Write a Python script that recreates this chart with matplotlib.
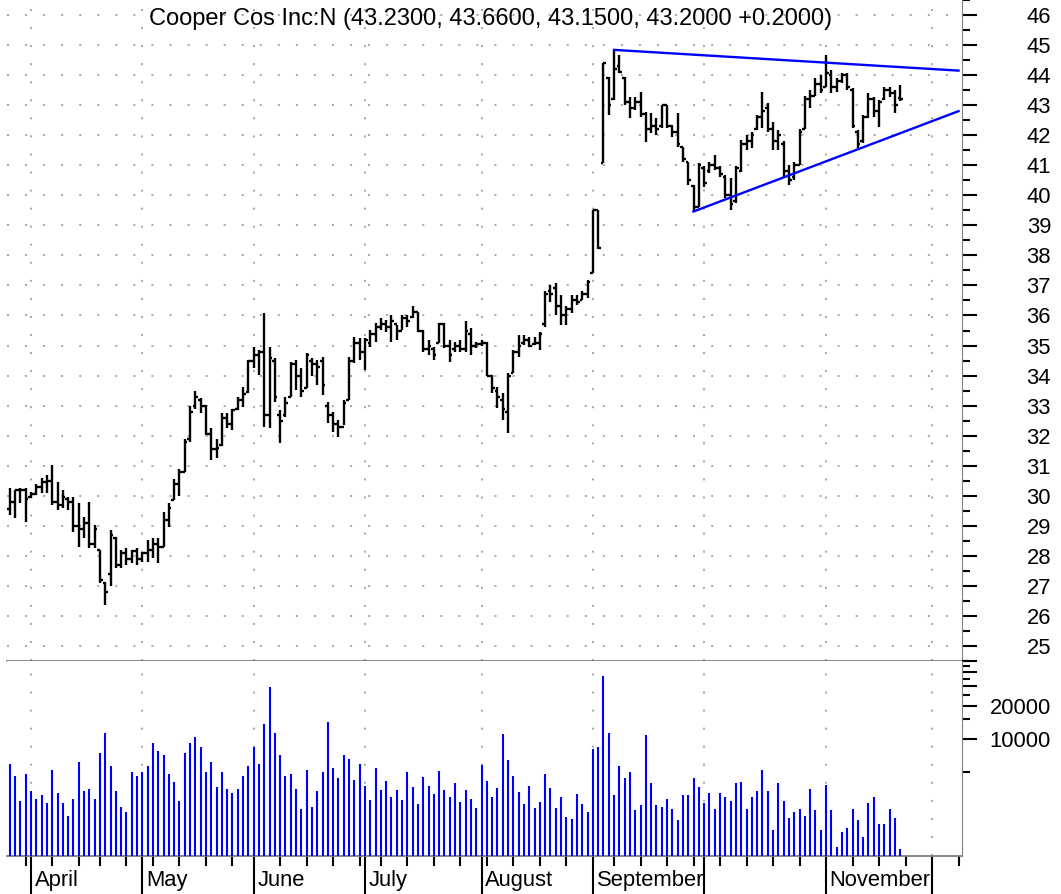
import matplotlib
matplotlib.use("Agg")
import matplotlib.pyplot as plt
from matplotlib.collections import LineCollection
from matplotlib.ticker import FixedLocator, FixedFormatter, NullFormatter
import matplotlib.transforms as mtransforms

plt.rcParams['font.family'] = ['Liberation Sans', 'DejaVu Sans']

### Daily bars, 26 Mar 2003 - 21 Nov 2003 (trading day index 0..168)

highs = [30.25, 30.20, 30.25, 30.25, 30.14, 30.40, 30.58, 30.69, 31.02, 30.47,
         30.19, 29.97, 29.97, 29.75, 29.30, 29.80, 29.03, 28.20, 27.14, 28.86,
         28.64, 28.20, 28.25, 28.20, 28.25, 28.14, 28.53, 28.58, 28.58, 29.47,
         29.75, 30.55, 30.90, 31.90, 33.00, 33.50, 33.25, 33.02, 32.25, 31.90,
         32.75, 32.75, 32.90, 33.30, 33.63, 34.52, 34.96, 34.85, 36.07, 34.96,
         34.57, 32.86, 33.30, 34.46, 34.52, 34.24, 34.74, 34.57, 34.52, 34.63,
         33.13, 32.80, 32.52, 33.19, 34.63, 35.30, 35.24, 35.24, 35.52, 35.74,
         35.91, 35.85, 36.02, 35.69, 36.02, 36.02, 36.30, 36.13, 35.52, 35.19,
         34.96, 35.74, 35.74, 35.19, 35.13, 35.19, 35.80, 35.57, 35.13, 35.19,
         35.13, 34.02, 33.63, 33.41, 34.08, 34.85, 35.35, 35.35, 35.30, 35.30,
         35.46, 36.80, 37.02, 37.07, 36.68, 36.30, 36.68, 36.68, 36.80, 37.18,
         39.51, 39.50, 44.40, 43.95, 44.84, 44.67, 43.95, 43.28, 43.28, 43.45,
         42.78, 42.73, 42.56, 43.00, 43.00, 42.34, 42.73, 41.62, 41.12, 40.34,
         41.07, 40.96, 41.12, 41.34, 40.96, 40.68, 40.57, 40.96, 41.84, 42.00,
         42.12, 42.67, 43.45, 43.06, 42.45, 42.17, 41.80, 41.00, 41.10, 42.20,
         43.30, 43.50, 43.90, 44.00, 44.67, 44.17, 43.90, 44.06, 44.06, 43.56,
         42.17, 42.67, 43.39, 43.28, 43.17, 43.60, 43.60, 43.50, 43.66]

lows = [29.36, 29.25, 29.75, 29.14, 29.92, 30.03, 30.08, 30.08, 29.69, 29.53,
        29.58, 29.53, 28.81, 28.30, 28.60, 28.25, 28.25, 27.10, 26.37, 26.98,
        27.60, 27.60, 27.70, 27.75, 27.70, 27.80, 27.80, 27.92, 27.75, 28.30,
        28.97, 29.85, 30.00, 30.80, 31.80, 32.90, 32.75, 32.02, 31.20, 31.25,
        31.65, 32.25, 32.20, 32.86, 32.97, 33.41, 34.24, 34.02, 32.30, 32.25,
        33.13, 31.75, 32.63, 33.30, 33.52, 33.30, 33.58, 33.97, 33.69, 33.35,
        32.41, 32.13, 31.97, 32.36, 33.19, 34.41, 34.52, 34.19, 34.96, 35.13,
        35.52, 35.46, 35.13, 35.19, 35.52, 35.63, 35.91, 35.46, 34.80, 34.69,
        34.52, 35.07, 34.91, 34.46, 34.80, 34.80, 34.80, 34.69, 34.91, 35.00,
        33.97, 33.41, 32.91, 32.52, 32.08, 34.08, 34.63, 35.02, 34.96, 35.02,
        34.85, 35.63, 36.46, 36.02, 35.68, 35.68, 36.07, 36.35, 36.50, 36.57,
        37.40, 38.20, 41.07, 42.67, 43.17, 44.06, 43.00, 42.56, 42.84, 42.62,
        41.79, 42.06, 42.00, 42.23, 42.23, 41.95, 41.62, 41.12, 40.34, 39.46,
        39.62, 40.29, 40.73, 40.84, 40.62, 39.90, 39.51, 39.73, 40.79, 41.50,
        41.56, 42.17, 42.23, 42.12, 41.50, 41.50, 40.60, 40.35, 40.50, 41.00,
        42.20, 42.90, 43.30, 43.40, 43.60, 43.40, 43.45, 43.73, 43.50, 42.23,
        41.56, 41.73, 42.56, 42.62, 42.28, 43.17, 43.28, 42.73, 43.15]

opens = [29.55, 29.80, 30.20, 30.20, 29.95, 30.05, 30.30, 30.45, 30.50, 29.80,
         29.70, 29.90, 29.80, 29.00, 28.90, 29.10, 28.40, 28.20, 27.10, 27.40,
         28.60, 27.70, 28.10, 27.90, 28.15, 27.90, 28.10, 28.20, 28.40, 28.30,
         29.20, 29.85, 30.40, 30.80, 31.90, 33.00, 33.20, 33.00, 32.05, 31.55,
         31.70, 32.60, 32.40, 32.90, 33.20, 33.45, 34.50, 34.70, 34.80, 32.70,
         34.50, 32.70, 32.70, 33.30, 34.40, 34.00, 33.60, 34.50, 34.40, 34.50,
         33.00, 32.70, 32.40, 32.30, 33.20, 34.50, 35.10, 34.80, 35.10, 35.40,
         35.60, 35.70, 35.60, 35.70, 35.50, 35.90, 35.95, 36.10, 35.50, 34.90,
         34.90, 35.10, 35.70, 35.00, 34.90, 35.00, 34.90, 35.40, 35.00, 35.05,
         35.10, 34.00, 33.50, 33.20, 32.80, 34.10, 34.80, 35.10, 35.20, 35.05,
         35.10, 35.70, 36.80, 36.90, 36.30, 36.00, 36.20, 36.50, 36.50, 36.70,
         37.40, 39.50, 41.07, 43.90, 43.20, 44.30, 43.90, 43.10, 42.90, 43.10,
         42.70, 42.20, 42.30, 42.30, 43.00, 42.30, 42.10, 41.62, 41.10, 40.30,
         39.62, 40.90, 40.80, 41.00, 40.90, 40.60, 40.00, 39.80, 40.80, 41.70,
         41.80, 42.20, 42.60, 42.90, 42.20, 41.80, 41.70, 40.80, 40.60, 41.00,
         42.20, 43.20, 43.30, 43.70, 43.60, 44.00, 43.60, 43.80, 44.00, 43.50,
         42.10, 41.80, 42.60, 43.20, 42.80, 43.20, 43.50, 43.40, 43.23]

closes = [29.80, 30.20, 30.20, 29.90, 30.05, 30.30, 30.45, 30.50, 29.80, 29.70,
          29.95, 29.80, 29.00, 28.90, 29.10, 28.40, 28.90, 27.20, 26.80, 28.70,
          27.70, 28.10, 27.90, 28.15, 27.90, 28.10, 28.20, 28.40, 28.30, 29.20,
          29.60, 30.40, 30.80, 31.80, 32.80, 33.30, 33.00, 32.05, 31.55, 31.60,
          32.60, 32.40, 32.85, 33.20, 33.40, 34.50, 34.70, 34.80, 32.70, 34.60,
          33.30, 32.50, 33.10, 34.40, 34.00, 33.50, 34.70, 34.40, 34.30, 33.70,
          32.70, 32.40, 32.30, 33.10, 34.50, 35.10, 34.80, 35.20, 35.40, 35.60,
          35.70, 35.60, 35.80, 35.50, 35.90, 35.80, 36.10, 35.50, 34.90, 35.00,
          34.70, 35.70, 35.00, 34.70, 35.00, 34.90, 35.50, 35.00, 35.05, 35.10,
          34.00, 33.60, 33.30, 32.90, 34.00, 34.80, 35.00, 35.20, 35.00, 35.10,
          35.40, 36.70, 36.70, 36.30, 36.00, 36.20, 36.50, 36.45, 36.70, 37.10,
          39.50, 38.24, 44.39, 43.00, 44.20, 44.10, 43.10, 42.90, 43.10, 42.70,
          42.20, 42.30, 42.20, 43.00, 42.30, 42.10, 41.70, 41.20, 40.50, 39.60,
          41.00, 40.40, 41.00, 40.90, 40.70, 40.00, 39.70, 40.90, 41.70, 41.80,
          42.00, 42.60, 42.80, 42.20, 41.80, 42.00, 40.80, 40.50, 41.00, 42.10,
          43.20, 43.30, 43.70, 43.50, 44.06, 43.60, 43.80, 44.00, 43.60, 42.30,
          41.70, 42.60, 43.20, 42.80, 43.10, 43.50, 43.40, 43.00, 43.20]

volumes = [5915, 4670, 2760, 4840, 3380, 2880, 3110, 2650, 5260, 3240,
           2650, 2020, 2880, 6170, 3380, 3530, 2880, 7520, 11250, 5710,
           3380, 2460, 2190, 5050, 4670, 5050, 5710, 9200, 7840, 7220,
           4840, 4120, 2760, 7520, 9200, 10350, 8470, 5050, 6170, 3670,
           5050, 3530, 3240, 3530, 4670, 5710, 8470, 5915, 13740, 29240,
           11250, 7220, 4670, 4840, 3530, 2360, 5260, 2460, 3380, 5050,
           14230, 5480, 4480, 7220, 6650, 4300, 6000, 3800, 2800, 5500,
           3500, 4200, 3000, 3500, 2800, 5000, 3700, 2600, 4500, 3800,
           3200, 5200, 3500, 3000, 4000, 2700, 3500, 2900, 2400, 5800,
           4200, 3000, 3600, 11000, 6500, 4600, 3300, 2600, 3800, 2400,
           2700, 4800, 3600, 2400, 3000, 2000, 1900, 3200, 2580, 2190,
           8180, 8470, 37200, 11250, 3130, 5710, 4480, 5050, 2280, 2560,
           10800, 3990, 2560, 2460, 2880, 2360, 1860, 3130, 3130, 4480,
           3670, 2670, 3240, 2360, 3240, 3000, 2760, 3990, 4130, 2360,
           3000, 3380, 5260, 3380, 1520, 3990, 2760, 1930, 2190, 2360,
           2010, 3520, 2280, 1520, 3830, 2280, 1060, 1460, 1590, 2360,
           1860, 1300, 2670, 3000, 1710, 1710, 2360, 1930, 1020]

# trend lines (bar index, price)
upper_x = [114, 179]
upper_y = [44.84, 44.15]
lower_x = [129, 179]
lower_y = [39.46, 42.80]

# calendar axis: first trading day of each month / week
month_idx = [4, 25, 46, 67, 89, 110, 131, 154, 174]
month_names = ["April", "May", "June", "July", "August", "September", "", "November", ""]
week_idx = [3, 8, 13, 17, 22, 27, 32, 37, 42, 46, 51, 56, 61, 66, 70, 75, 80, 85,
            90, 95, 100, 105, 114, 119, 124, 129, 134, 139, 144, 149, 154, 159,
            164, 169, 174, 179]

title = "Cooper Cos Inc:N (43.2300, 43.6600, 43.1500, 43.2000 +0.2000)"

W, H = 1061, 894
fig = plt.figure(figsize=(W / 100, H / 100), dpi=100)
ax = fig.add_axes([7 / W, 1 - 661 / H, 955 / W, 661 / H])
axv = fig.add_axes([7 / W, 1 - 856 / H, 955 / W, 195 / H], sharex=ax)

grid_kw = dict(color="#a0a0a0", lw=1.3, linestyle=(0, (1.1, 8.9)), zorder=0)

### Price panel
segs = []
for i in range(len(highs)):
    segs.append([(i, lows[i]), (i, highs[i])])
    segs.append([(i - 0.5, opens[i]), (i, opens[i])])
    segs.append([(i, closes[i]), (i + 0.5, closes[i])])
ax.add_collection(LineCollection(segs, colors="black", linewidths=1.7, capstyle="butt", zorder=3))

ax.plot(upper_x, upper_y, color="#0000ff", lw=1.7, zorder=4)
ax.plot(lower_x, lower_y, color="#0000ff", lw=1.7, zorder=4)

ax.set_xlim(-0.53, 179.66)
ax.set_ylim(24.5, 46.5)

price_ticks = list(range(25, 47))
ax.yaxis.tick_right()
ax.yaxis.set_major_locator(FixedLocator(price_ticks))
ax.yaxis.set_major_formatter(FixedFormatter([str(p) for p in price_ticks]))
ax.yaxis.set_minor_locator(FixedLocator([p + 0.5 for p in range(24, 47)]))
ax.tick_params(axis="y", which="major", length=10.8, width=1.5, pad=53.3, labelsize=15.8)
ax.tick_params(axis="y", which="minor", length=5.8, width=1.5)
plt.setp(ax.get_yticklabels(), ha="right")
ax.tick_params(axis="x", which="both", bottom=False, labelbottom=False)

for p in price_ticks:
    ax.axhline(p, **grid_kw)
for m in month_idx:
    ax.axvline(m, **grid_kw)
    axv.axvline(m, **grid_kw)

for s in ["top", "left"]:
    ax.spines[s].set_visible(False)
ax.spines["right"].set_color("#808080")
ax.spines["bottom"].set_color("#808080")
ax.spines["bottom"].set_linewidth(1.3)
ax.spines["bottom"].set_zorder(5)

fig.text(491 / W, 1 - 19 / H, title, ha="center", va="center", fontsize=17)

### Volume panel
axv.vlines(range(len(volumes)), 883, volumes, color="#0000ff", lw=1.5, zorder=3)
axv.set_yscale("log")
axv.set_ylim(883, 50400)
vol_major = [10000, 20000, 30000, 40000, 50000]
axv.yaxis.tick_right()
axv.yaxis.set_major_locator(FixedLocator(vol_major))
axv.yaxis.set_major_formatter(FixedFormatter(["10000", "20000", "", "", ""]))
axv.yaxis.set_minor_locator(FixedLocator([5000, 15000, 25000, 35000, 45000]))
axv.yaxis.set_minor_formatter(NullFormatter())
axv.tick_params(axis="y", which="major", length=10.8, width=1.5, pad=53.3, labelsize=15.8)
axv.tick_params(axis="y", which="minor", length=5.8, width=1.5)
plt.setp(axv.get_yticklabels(), ha="right")

axv.xaxis.set_major_locator(FixedLocator(month_idx))
axv.xaxis.set_major_formatter(NullFormatter())
axv.xaxis.set_minor_locator(FixedLocator(week_idx))
axv.tick_params(axis="x", which="major", length=27.4, width=1.5)
axv.tick_params(axis="x", which="minor", length=7.2, width=1.5)

lbl_trans = mtransforms.blended_transform_factory(axv.transData, axv.transAxes)
for m, name in zip(month_idx, month_names):
    axv.text(m + 0.7, -0.154, name, transform=lbl_trans, ha="left", va="baseline",
             fontsize=15.8, clip_on=False)

for s in ["top", "left"]:
    axv.spines[s].set_visible(False)
axv.spines["right"].set_color("#808080")
axv.spines["bottom"].set_color("#808080")
axv.spines["bottom"].set_linewidth(1.3)

fig.savefig("out.png", dpi=100)
